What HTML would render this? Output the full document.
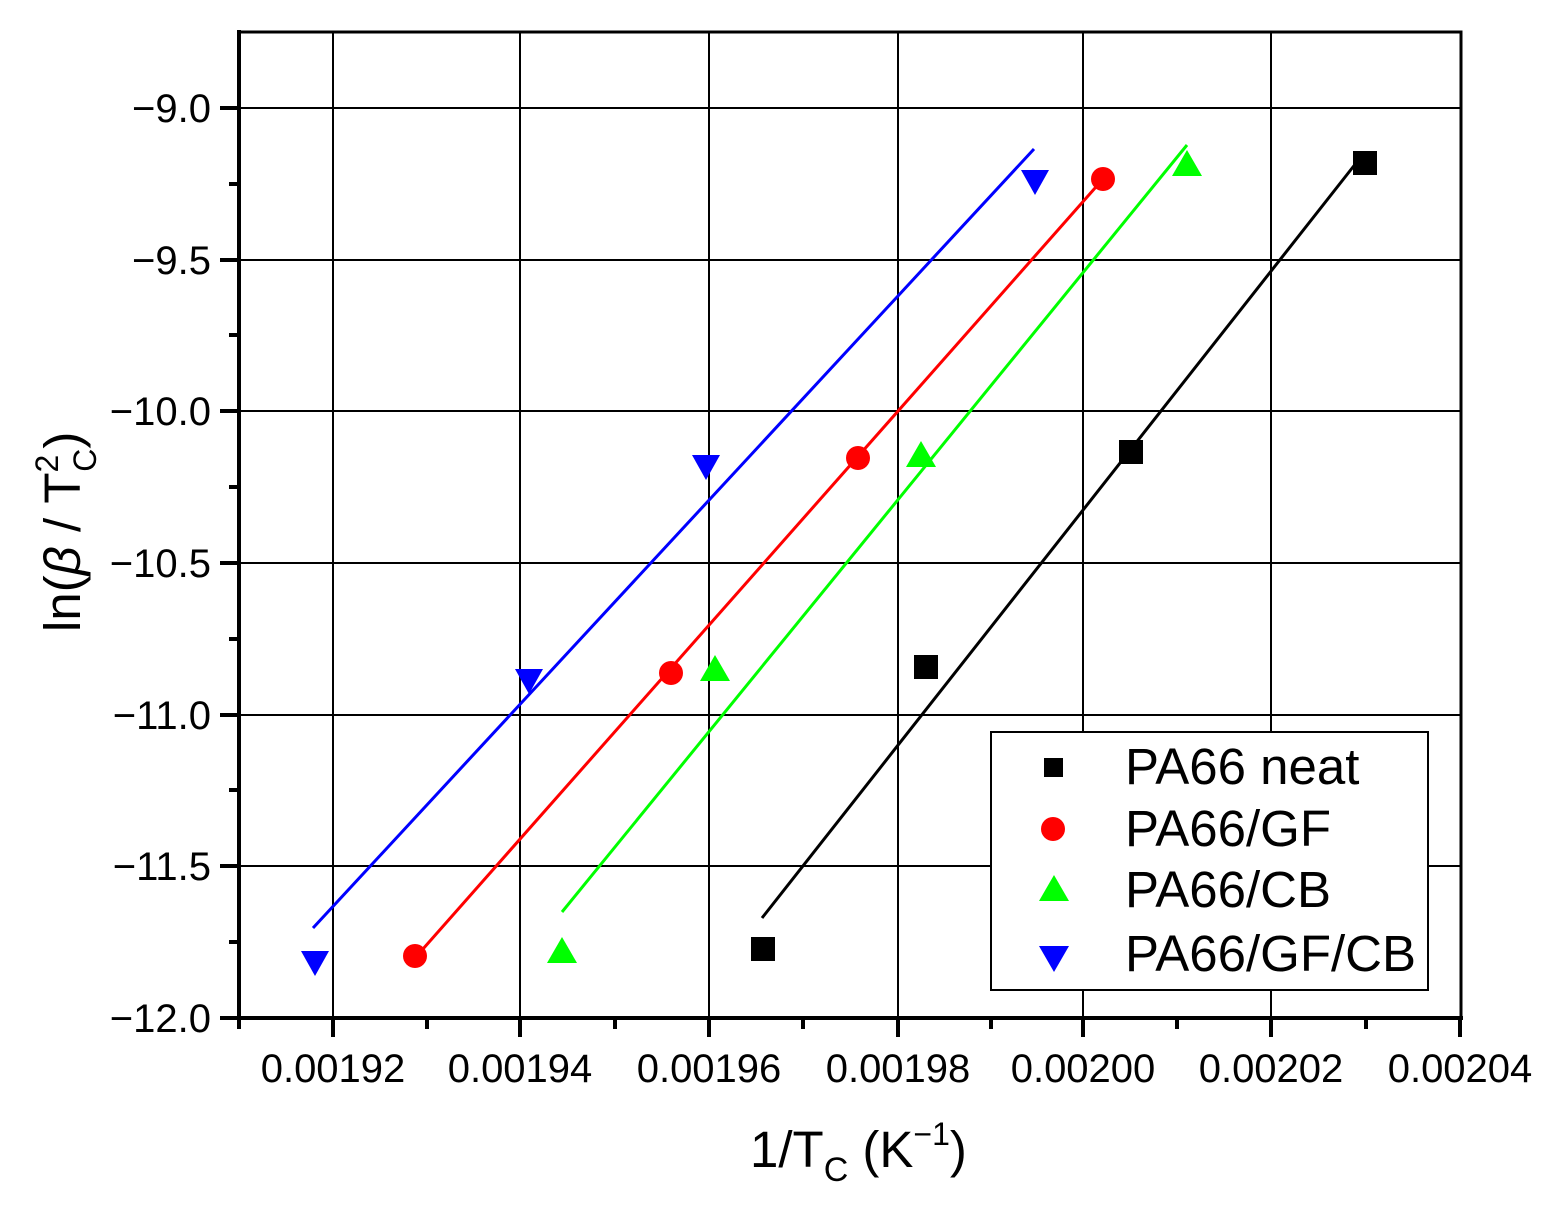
<!DOCTYPE html>
<html><head><meta charset="utf-8"><style>body{margin:0;background:#fff}svg{display:block}</style></head><body>
<svg width="1560" height="1214" viewBox="0 0 1560 1214" xmlns="http://www.w3.org/2000/svg" font-family="Liberation Sans, Arial, sans-serif">
<rect width="1560" height="1214" fill="#fff"/>
<g stroke="#000" stroke-width="2">
<line x1="333" y1="32" x2="333" y2="1018"/><line x1="520" y1="32" x2="520" y2="1018"/><line x1="709" y1="32" x2="709" y2="1018"/><line x1="898" y1="32" x2="898" y2="1018"/><line x1="1083" y1="32" x2="1083" y2="1018"/><line x1="1271" y1="32" x2="1271" y2="1018"/>
<line x1="239" y1="108" x2="1461" y2="108"/><line x1="239" y1="260" x2="1461" y2="260"/><line x1="239" y1="411" x2="1461" y2="411"/><line x1="239" y1="563" x2="1461" y2="563"/><line x1="239" y1="715" x2="1461" y2="715"/><line x1="239" y1="866" x2="1461" y2="866"/>
</g>
<g stroke="#000" stroke-width="4">
<rect x="239" y="32" width="1222" height="986" fill="none" stroke-width="3"/>
<line x1="239" y1="30" x2="239" y2="1020"/><line x1="237" y1="1018" x2="1463" y2="1018"/>
<line x1="239" y1="1018" x2="239" y2="1029"/><line x1="333" y1="1018" x2="333" y2="1037"/><line x1="520" y1="1018" x2="520" y2="1037"/><line x1="709" y1="1018" x2="709" y2="1037"/><line x1="898" y1="1018" x2="898" y2="1037"/><line x1="1083" y1="1018" x2="1083" y2="1037"/><line x1="1271" y1="1018" x2="1271" y2="1037"/><line x1="1460" y1="1018" x2="1460" y2="1037"/>
<line x1="427" y1="1018" x2="427" y2="1029"/><line x1="615" y1="1018" x2="615" y2="1029"/><line x1="803" y1="1018" x2="803" y2="1029"/><line x1="991" y1="1018" x2="991" y2="1029"/><line x1="1177" y1="1018" x2="1177" y2="1029"/><line x1="1366" y1="1018" x2="1366" y2="1029"/>
<line x1="220" y1="108" x2="239" y2="108"/><line x1="220" y1="260" x2="239" y2="260"/><line x1="220" y1="411" x2="239" y2="411"/><line x1="220" y1="563" x2="239" y2="563"/><line x1="220" y1="715" x2="239" y2="715"/><line x1="220" y1="866" x2="239" y2="866"/><line x1="220" y1="1018" x2="239" y2="1018"/>
<line x1="229" y1="184" x2="239" y2="184"/><line x1="229" y1="335" x2="239" y2="335"/><line x1="229" y1="487" x2="239" y2="487"/><line x1="229" y1="639" x2="239" y2="639"/><line x1="229" y1="790" x2="239" y2="790"/><line x1="229" y1="942" x2="239" y2="942"/>
</g>
<g font-size="40" text-anchor="end" fill="#000">
<text x="211" y="122">−9.0</text><text x="211" y="274">−9.5</text><text x="211" y="425">−10.0</text><text x="211" y="577">−10.5</text><text x="211" y="729">−11.0</text><text x="211" y="880">−11.5</text><text x="211" y="1032">−12.0</text>
</g>
<g font-size="40" text-anchor="middle" fill="#000">
<text x="333" y="1082">0.00192</text><text x="520" y="1082">0.00194</text><text x="709" y="1082">0.00196</text><text x="898" y="1082">0.00198</text><text x="1083" y="1082">0.00200</text><text x="1271" y="1082">0.00202</text><text x="1460" y="1082">0.00204</text>
</g>
<text x="750" y="1167" font-size="51">1/T<tspan font-size="34" dy="14">C</tspan><tspan dy="-14"> (K</tspan><tspan font-size="32" dy="-22">−1</tspan><tspan dy="22">)</tspan></text>
<text transform="translate(80,632) rotate(-90)" font-size="51">ln(<tspan font-style="italic">β</tspan> / T<tspan font-size="32" dy="-22">2</tspan><tspan font-size="32" dx="-17" dy="38">C</tspan><tspan dy="-16">)</tspan></text>
<g stroke-width="3">
<line x1="762" y1="918" x2="1364" y2="153" stroke="#000"/>
<line x1="415" y1="958" x2="1103" y2="179" stroke="#f00"/>
<line x1="562" y1="912" x2="1187" y2="145" stroke="#0f0"/>
<line x1="313" y1="928" x2="1034" y2="149" stroke="#00f"/>
</g>
<g fill="#000"><rect x="751" y="937" width="24" height="24"/><rect x="914" y="655" width="24" height="24"/><rect x="1119" y="440" width="24" height="24"/><rect x="1353" y="151" width="24" height="24"/></g>
<g fill="#f00"><circle cx="415" cy="956" r="12"/><circle cx="671" cy="673" r="12"/><circle cx="858" cy="458" r="12"/><circle cx="1103" cy="179" r="12"/></g>
<g fill="#0f0"><polygon points="562,937 577,963 547,963"/><polygon points="715,655 730,681 700,681"/><polygon points="921,441 936,467 906,467"/><polygon points="1187,150 1202,176 1172,176"/></g>
<g fill="#00f"><polygon points="301,951 329,951 315,976"/><polygon points="515,669 543,669 529,694"/><polygon points="692,455 720,455 706,480"/><polygon points="1021,170 1049,170 1035,195"/></g>
<rect x="991" y="732" width="437" height="258" fill="#fff" stroke="#000" stroke-width="2"/>
<rect x="1044" y="758" width="19" height="19" fill="#000"/>
<circle cx="1053" cy="829" r="12" fill="#f00"/>
<polygon points="1054,875 1069,901 1039,901" fill="#0f0"/>
<polygon points="1039,946 1069,946 1054,972" fill="#00f"/>
<g font-size="51" fill="#000"><text x="1125" y="784">PA66 neat</text><text x="1125" y="846">PA66/GF</text><text x="1125" y="907">PA66/CB</text><text x="1125" y="971">PA66/GF/CB</text></g>
</svg>
</body></html>
